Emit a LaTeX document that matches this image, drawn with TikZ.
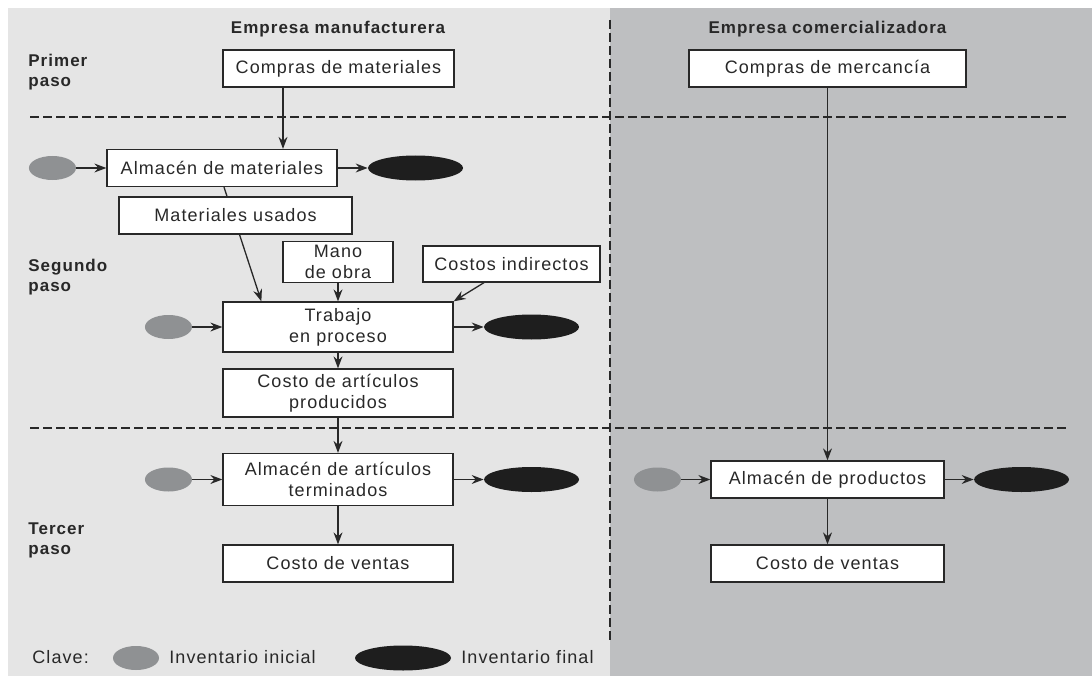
\documentclass[tikz,border=0pt]{standalone}
\usepackage{fontspec}
\newfontfamily\diagfont[LetterSpace=6]{Liberation Sans}
\usepackage{tikz}
\usetikzlibrary{arrows.meta,positioning,shapes.geometric}
\definecolor{paneleft}{RGB}{229,229,229}
\definecolor{paneright}{RGB}{190,191,193}
\definecolor{invgray}{RGB}{143,145,147}
\definecolor{invblack}{RGB}{30,30,30}
\definecolor{inkgray}{RGB}{40,40,40}
\tikzset{
  flowpicture/.style={x=0.5pt, y=0.5pt, node distance=15pt},
  flowbox/.style={draw=inkgray, fill=white, line width=0.65pt, align=center, font=\diagfont\fontsize{9}{10.5}\selectfont, text=inkgray, inner sep=2pt, minimum width=115pt, minimum height=18.5pt},
  invstart/.style={ellipse, fill=invgray, minimum width=23.5pt, minimum height=12pt, inner sep=0pt},
  invend/.style={ellipse, fill=invblack, minimum width=47.5pt, minimum height=12.5pt, inner sep=0pt},
  headtext/.style={font=\diagfont\bfseries\fontsize{8.5}{10}\selectfont, text=inkgray, anchor=base, inner sep=0pt},
  steptext/.style={font=\diagfont\bfseries\fontsize{8.5}{10}\selectfont, text=inkgray, align=left, anchor=base west, inner sep=0pt},
  keytext/.style={font=\diagfont\fontsize{9}{10.5}\selectfont, text=inkgray, anchor=base west, inner sep=0pt},
  flowarrow/.style={-{Stealth[length=6pt, width=4.5pt, inset=2pt]}, line width=0.65pt, draw=inkgray},
  flowdash/.style={line width=0.65pt, draw=inkgray, dash pattern=on 4.5pt off 2pt}
}

\begin{document}
\begin{tikzpicture}[flowpicture]
\useasboundingbox (0,0) rectangle (1092,687);
% panels and separators
\fill[paneleft] (8,11) rectangle (610,679);
\fill[paneright] (610,11) rectangle (1092,679);
\draw[flowdash] (30,570) -- (1068,570);
\draw[flowdash] (30,259) -- (1068,259);
\draw[flowdash] (610,667) -- (610,46);
% headings
\node[headtext] (headman) at (338,653) {Empresa manufacturera};
\node[headtext] (headcom) at (827.5,653) {Empresa comercializadora};
\node[steptext] (stepone) at (28,600.5) {Primer\\paso};
\node[steptext] (steptwo) at (28,396) {Segundo\\paso};
\node[steptext] (stepthree) at (28,132.5) {Tercer\\paso};
% manufacturer
\node[flowbox, minimum width=115.5pt] (compmat) at (338.5,618.5) {Compras de materiales};
\node[flowbox] (almmat) at (222,519) {Almacén de materiales};
\node[flowbox, minimum width=55pt, minimum height=20pt] (manobra) at (338,425) {Mano\\de obra};
\node[flowbox, minimum width=88.5pt, minimum height=18pt] (costind) at (511.5,423) {Costos indirectos};
\node[flowbox, minimum height=25pt] (trab) at (338,360) {Trabajo\\en proceso};
\node[flowbox, minimum height=24pt] (costart) at (338,294) {Costo de artículos\\producidos};
\node[flowbox, minimum height=26pt] (almart) at (338,207.5) {Almacén de artículos\\terminados};
\node[flowbox] (costven) at (338,123.5) {Costo de ventas};
\draw[flowarrow] ([xshift=1pt]almmat.south) -- ([xshift=19.5pt]trab.north west);
\node[flowbox, minimum width=116.5pt] (matus) at (235.5,471.5) {Materiales usados};
\node[invstart, left=of almmat] (almmatini) {};
\node[invend, right=of almmat] (almmatfin) {};
\node[invstart, left=of trab] (trabini) {};
\node[invend, right=of trab] (trabfin) {};
\node[invstart, left=of almart] (almartini) {};
\node[invend, right=of almart] (almartfin) {};
\draw[flowarrow] ([xshift=-27.75pt]compmat.south) -- ([xshift=-27.75pt]compmat.south |- almmat.north);
\draw[flowarrow] (manobra) -- (trab);
\draw[flowarrow] ([xshift=-13.75pt]costind.south) -- (trab.north east);
\draw[flowarrow] (trab) -- (costart);
\draw[flowarrow] (costart) -- (almart);
\draw[flowarrow] (almart) -- (costven);
\draw[flowarrow] (almmatini) -- (almmat);
\draw[flowarrow] (almmat) -- (almmatfin);
\draw[flowarrow] (trabini) -- (trab);
\draw[flowarrow] (trab) -- (trabfin);
\draw[flowarrow] (almartini) -- (almart);
\draw[flowarrow] (almart) -- (almartfin);
% merchandiser
\node[flowbox, minimum width=138.5pt] (compmerc) at (827.5,618.5) {Compras de mercancía};
\node[flowbox, minimum width=116.5pt] (almprod) at (827.5,207.5) {Almacén de productos};
\node[flowbox, minimum width=116.5pt] (costvencom) at (827.5,123.5) {Costo de ventas};
\node[invstart, left=14.5pt of almprod] (almprodini) {};
\node[invend, right=14.5pt of almprod] (almprodfin) {};
\draw[flowarrow] (compmerc) -- (almprod);
\draw[flowarrow] (almprod) -- (costvencom);
\draw[flowarrow] (almprodini) -- (almprod);
\draw[flowarrow] (almprod) -- (almprodfin);
% key
\node[keytext] (keylabel) at (32,24) {Clave:};
\node[invstart, minimum width=23pt] (keyini) at (136,29) {};
\node[keytext] (keyinitext) at (169,24) {Inventario inicial};
\node[invend, minimum width=48pt] (keyfin) at (403,29) {};
\node[keytext] (keyfintext) at (461,24) {Inventario final};
\end{tikzpicture}
\end{document}
